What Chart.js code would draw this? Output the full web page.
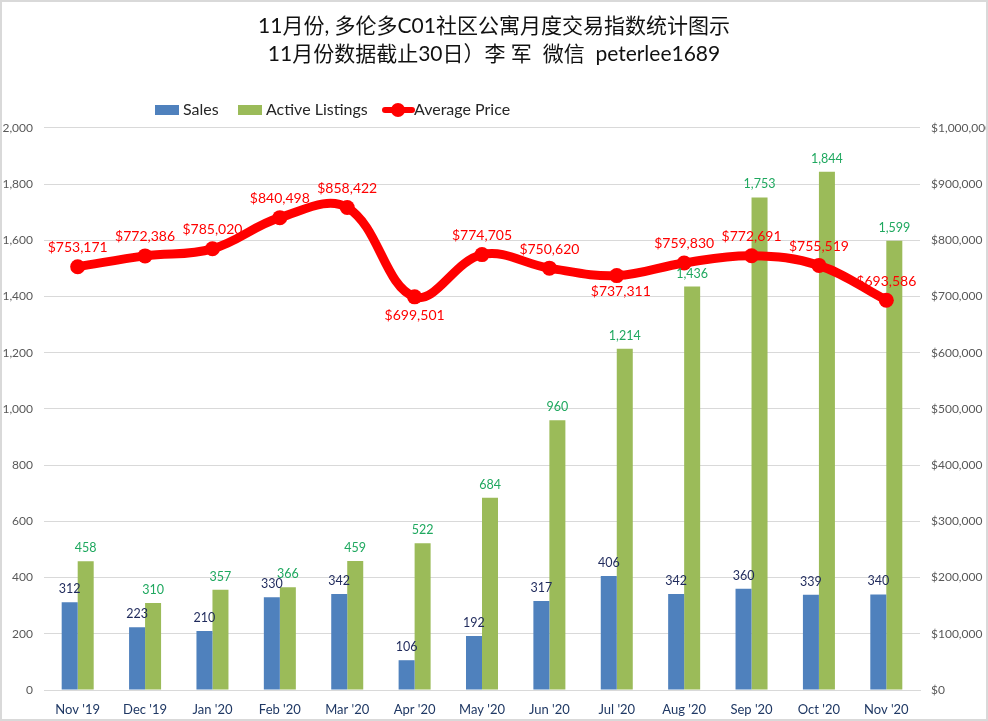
<!DOCTYPE html>
<html>
<head>
<meta charset="utf-8">
<style>
  html, body { margin: 0; padding: 0; background: #fff; }
  canvas { display: block; outline: 2px solid #d9d9d9; outline-offset: -2px; }
</style>
<script src="https://cdn.jsdelivr.net/npm/chart.js@4/dist/chart.umd.min.js"></script>
</head>
<body>
<canvas id="chart" width="988" height="721"></canvas>
<script>
const months = ["Nov '19", "Dec '19", "Jan '20", "Feb '20", "Mar '20", "Apr '20", "May '20", "Jun '20", "Jul '20", "Aug '20", "Sep '20", "Oct '20", "Nov '20"];
const sales = [312, 223, 210, 330, 342, 106, 192, 317, 406, 342, 360, 339, 340];
const listings = [458, 310, 357, 366, 459, 522, 684, 960, 1214, 1436, 1753, 1844, 1599];
const prices = [753171, 772386, 785020, 840498, 858422, 699501, 774705, 750620, 737311, 759830, 772691, 755519, 693586];
const titleLines = ["11月份, 多伦多C01社区公寓月度交易指数统计图示", "11月份数据截止30日）李 军  微信  peterlee1689"];

const FONT = "Lato, 'Noto Sans CJK SC', sans-serif";
const belowLabels = [5, 8]; // these two price labels sit under the line

// value labels above bars and around the price line
const valueLabels = {
    id: 'valueLabels',
    afterDatasetsDraw(chart) {
        const { ctx } = chart;
        ctx.save();
        ctx.textAlign = "center";
        ctx.textBaseline = "middle";

        chart.getDatasetMeta(0).data.forEach((bar, i) => {
            ctx.font = "12.5px " + FONT;
            ctx.fillStyle = "#1f2a5c";
            ctx.fillText(sales[i].toLocaleString("en-US"), bar.x, bar.y - 13);
        });
        chart.getDatasetMeta(1).data.forEach((bar, i) => {
            ctx.font = "12.5px " + FONT;
            ctx.fillStyle = "#1fa85f";
            ctx.fillText(listings[i].toLocaleString("en-US"), bar.x, bar.y - 13);
        });
        chart.getDatasetMeta(2).data.forEach((pt, i) => {
            ctx.font = "14px " + FONT;
            ctx.fillStyle = "#ff0000";
            const dy = belowLabels.includes(i) ? (i === 8 ? 16 : 19) : -19;
            const dx = i === 8 ? 4 : 0;
            ctx.fillText("$" + prices[i].toLocaleString("en-US"), pt.x + dx, pt.y + dy);
        });
        ctx.restore();
    }
};

// legend drawn by hand, the swatches sit very close to the text in the original
const sketchLegend = {
    id: 'sketchLegend',
    afterDraw(chart) {
        const { ctx } = chart;
        const y = 110;
        ctx.save();
        ctx.font = "16px " + FONT;
        ctx.textBaseline = "middle";
        ctx.textAlign = "left";

        ctx.fillStyle = chart.data.datasets[0].backgroundColor;
        ctx.fillRect(155, y - 5, 24, 10);
        ctx.fillStyle = "#262626";
        ctx.fillText(chart.data.datasets[0].label, 183, y);

        ctx.fillStyle = chart.data.datasets[1].backgroundColor;
        ctx.fillRect(238, y - 5, 24, 10);
        ctx.fillStyle = "#262626";
        ctx.fillText(chart.data.datasets[1].label, 266, y);

        ctx.strokeStyle = "#ff0000";
        ctx.lineWidth = 6;
        ctx.lineCap = "round";
        ctx.beginPath();
        ctx.moveTo(385, y);
        ctx.lineTo(412, y);
        ctx.stroke();
        ctx.fillStyle = "#ff0000";
        ctx.beginPath();
        ctx.arc(398, y, 7, 0, Math.PI * 2);
        ctx.fill();
        ctx.fillStyle = "#262626";
        ctx.fillText(chart.data.datasets[2].label, 414, y);
        ctx.restore();
    }
};

new Chart(document.getElementById("chart").getContext("2d"), {
    data: {
        labels: months,
        datasets: [
            { type: "bar", label: "Sales", data: sales, backgroundColor: "#4f81bd", yAxisID: "y", order: 2, categoryPercentage: 0.475, barPercentage: 1 },
            { type: "bar", label: "Active Listings", data: listings, backgroundColor: "#9bbb59", yAxisID: "y", order: 2, categoryPercentage: 0.475, barPercentage: 1 },
            {
                type: "line", label: "Average Price", data: prices, yAxisID: "y1", order: 1,
                borderColor: "#ff0000", backgroundColor: "#ff0000", borderWidth: 9, tension: 0.38,
                pointRadius: 7.5, pointBackgroundColor: "#ff0000", pointBorderColor: "#ff0000", pointBorderWidth: 0
            }
        ]
    },
    options: {
        responsive: false,
        animation: false,
        devicePixelRatio: 1,
        layout: { padding: 0 },
        plugins: {
            legend: { display: false },
            tooltip: { enabled: false },
            title: {
                display: true,
                text: titleLines,
                color: "#111111",
                font: { family: FONT, size: 21, weight: "normal", lineHeight: 1.333 },
                padding: { top: 12, bottom: 60 }
            }
        },
        scales: {
            x: {
                grid: { display: false },
                border: { color: "#d9d9d9" },
                ticks: { color: "#1f3864", font: { family: FONT, size: 13 }, maxRotation: 0, autoSkip: false, padding: 4 },
                afterFit(scale) { scale.height = 31; }
            },
            y: {
                position: "left",
                min: 0,
                max: 2000,
                grid: { color: "#d9d9d9", drawTicks: false },
                border: { display: false },
                ticks: { stepSize: 200, color: "#595959", padding: 11, font: { family: FONT, size: 12 }, callback: v => v.toLocaleString("en-US") },
                afterFit(scale) { scale.width = 44; }
            },
            y1: {
                position: "right",
                min: 0,
                max: 1000000,
                grid: { display: false, drawTicks: false },
                border: { display: false },
                ticks: { stepSize: 100000, color: "#595959", padding: 11, font: { family: FONT, size: 12 }, callback: v => "$" + v.toLocaleString("en-US") },
                afterFit(scale) { scale.width = 68; }
            }
        }
    },
    plugins: [valueLabels, sketchLegend]
});
</script>
</body>
</html>
